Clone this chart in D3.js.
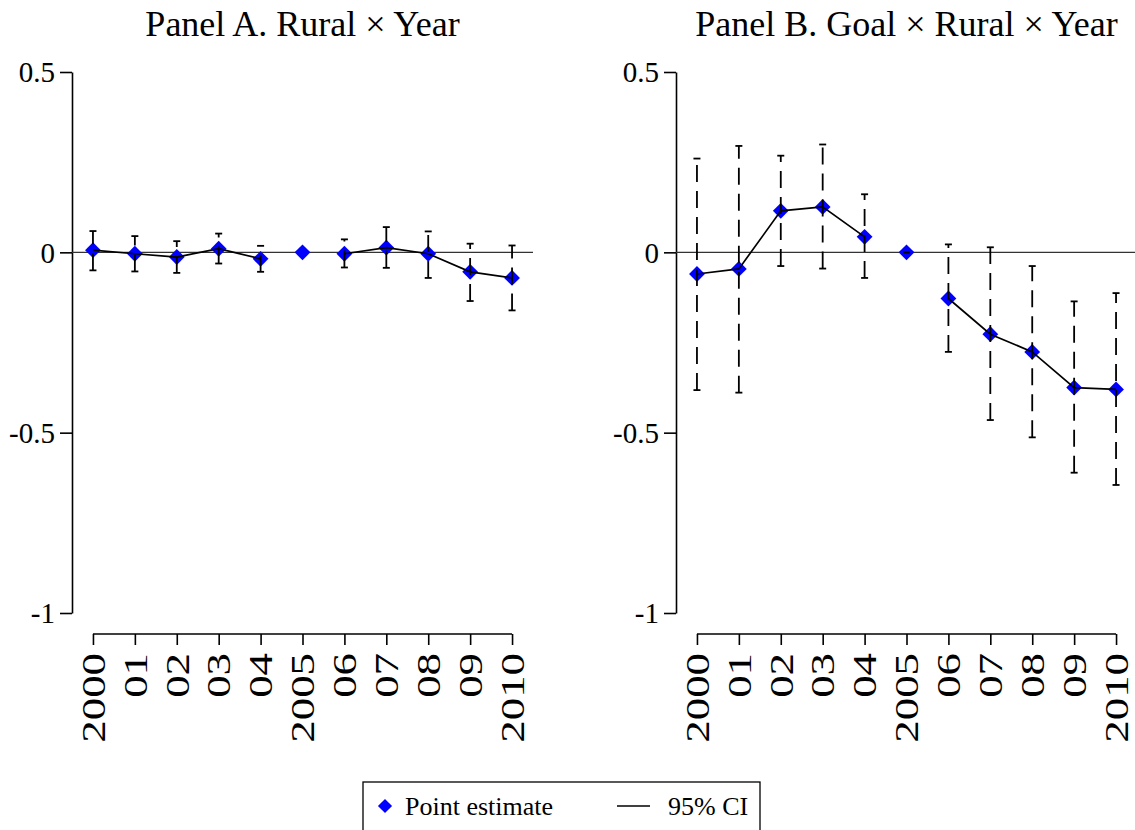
<!DOCTYPE html>
<html>
<head>
<meta charset="utf-8">
<script src="https://cdn.jsdelivr.net/npm/d3@7"></script>
<style>
  body { margin: 0; background: #fff; }
  svg { display: block; }
  svg text { font-family: "Liberation Serif", "Times New Roman", serif !important; fill: #000; }
</style>
</head>
<body>
<svg id="chart" width="1135" height="830"></svg>
<script>
// Event-study coefficients relative to the 2005 base year
const years = [2000, 2001, 2002, 2003, 2004, 2005, 2006, 2007, 2008, 2009, 2010];
const yearLabels = ["2000", "01", "02", "03", "04", "2005", "06", "07", "08", "09", "2010"];
const baseYear = 2005;
const yTicks = [0.5, 0, -0.5, -1];

const titleA = "Panel A. Rural × Year";
const estA = [0.006, -0.004, -0.013, 0.010, -0.018, 0, -0.004, 0.013, -0.004, -0.054, -0.071];
const loA  = [-0.050, -0.053, -0.057, -0.031, -0.054, null, -0.042, -0.043, -0.071, -0.135, -0.161];
const hiA  = [0.059, 0.045, 0.031, 0.052, 0.018, null, 0.036, 0.070, 0.058, 0.024, 0.019];

const titleB = "Panel B. Goal × Rural × Year";
const estB = [-0.060, -0.046, 0.115, 0.126, 0.043, 0, -0.128, -0.227, -0.276, -0.375, -0.380];
const loB  = [-0.382, -0.389, -0.038, -0.045, -0.071, 0, -0.276, -0.465, -0.513, -0.611, -0.645];
const hiB  = [0.260, 0.295, 0.268, 0.299, 0.161, 0, 0.022, 0.014, -0.038, -0.136, -0.113];

const legendLabels = ["Point estimate", "95% CI"];

const serif = "'Liberation Serif', 'Times New Roman', serif";
const svg = d3.select("#chart");
const markColor = "#0000ff";

const y = d3.scaleLinear().domain([-1, 0.5]).range([613, 72]);

const diamond = (size) => d3.symbol().type(d3.symbolSquare).size(size);

function drawPanel(left, right, title, est, lo, hi) {
  const x = d3.scaleLinear().domain([1999.5, 2010.5]).range([left, right]);
  const g = svg.append("g");
  const rows = years.map((yr, i) => ({ year: yr, est: est[i], lo: lo[i], hi: hi[i] }));

  // title
  g.append("text")
    .attr("x", (x(years[0]) + x(years[years.length - 1])) / 2)
    .attr("y", 36)
    .attr("text-anchor", "middle")
    .attr("font-family", serif)
    .style("font-size", "36px")
    .text(title);

  // y axis
  const yAxis = g.append("g")
    .attr("transform", `translate(${left},0)`)
    .call(d3.axisLeft(y).tickValues(yTicks).tickSize(12).tickSizeOuter(0).tickPadding(5)
      .tickFormat(d => String(d)))
    .attr("font-family", serif);
  yAxis.select(".domain").attr("stroke", "#000").attr("stroke-width", 1.6);
  yAxis.selectAll(".tick line").attr("stroke", "#000").attr("stroke-width", 1.6);
  yAxis.selectAll(".tick text")
    .attr("dy", "0.34em")
    .attr("font-family", serif)
    .style("font-size", "29px")
    .attr("fill", "#000");

  // x axis
  const xAxis = g.append("g")
    .attr("transform", "translate(0,634)")
    .call(d3.axisBottom(x).tickValues(years).tickSize(11).tickSizeOuter(0)
      .tickFormat((d, i) => yearLabels[i]))
    .attr("font-family", serif);
  xAxis.select(".domain")
    .attr("d", `M${x(years[0])},0H${x(years[years.length - 1])}`)
    .attr("stroke", "#000").attr("stroke-width", 1.6);
  xAxis.selectAll(".tick line").attr("stroke", "#000").attr("stroke-width", 1.6);
  xAxis.selectAll(".tick text")
    .attr("x", 0).attr("y", 0).attr("dy", "0.34em")
    .attr("transform", "translate(0,19) rotate(-90) scale(1.36,1)")
    .attr("text-anchor", "end")
    .attr("font-family", serif)
    .style("font-size", "33px")
    .attr("fill", "#000");

  // zero reference line
  g.append("line")
    .attr("x1", left).attr("x2", right)
    .attr("y1", y(0)).attr("y2", y(0))
    .attr("stroke", "#333").attr("stroke-width", 1.4);

  // point estimates
  g.append("g").selectAll("path").data(rows).join("path")
    .attr("d", diamond(125)())
    .attr("transform", d => `translate(${x(d.year)},${y(d.est)}) rotate(45)`)
    .attr("fill", markColor);

  // confidence intervals (dashed spikes drawn from the lower bound up, solid caps)
  const ci = rows.filter(d => d.lo !== null && d.hi !== null);
  const cig = g.append("g").attr("stroke", "#000").attr("stroke-width", 1.8).attr("fill", "none");
  cig.selectAll("path.spike").data(ci).join("path")
    .attr("class", "spike")
    .attr("d", d => `M${x(d.year)},${y(d.lo)}V${y(d.hi)}`)
    .attr("stroke-dasharray", "17,9");
  cig.selectAll("path.cap").data(ci.flatMap(d => [[d.year, d.lo], [d.year, d.hi]])).join("path")
    .attr("class", "cap")
    .attr("d", d => `M${x(d[0]) - 3.5},${y(d[1])}H${x(d[0]) + 3.5}`);

  // connecting line, broken at the base year
  const line = d3.line()
    .defined(d => d.year !== baseYear)
    .x(d => x(d.year)).y(d => y(d.est));
  g.append("path")
    .attr("d", line(rows))
    .attr("fill", "none").attr("stroke", "#000").attr("stroke-width", 1.7);
}

drawPanel(72, 533, titleA, estA, loA, hiA);
drawPanel(676, 1137, titleB, estB, loB, hiB);

// legend
const lg = svg.append("g").attr("font-family", serif);
lg.append("rect")
  .attr("x", 363).attr("y", 782).attr("width", 397).attr("height", 60)
  .attr("fill", "none").attr("stroke", "#000").attr("stroke-width", 1.3);
lg.append("path")
  .attr("d", diamond(100)())
  .attr("transform", "translate(385,806) rotate(45)")
  .attr("fill", markColor);
lg.append("text").attr("x", 405).attr("y", 815).style("font-size", "26px").text(legendLabels[0]);
lg.append("line").attr("x1", 617).attr("x2", 650).attr("y1", 806).attr("y2", 806)
  .attr("stroke", "#000").attr("stroke-width", 1.6);
lg.append("text").attr("x", 668).attr("y", 815).style("font-size", "26px").text(legendLabels[1]);
</script>
</body>
</html>
